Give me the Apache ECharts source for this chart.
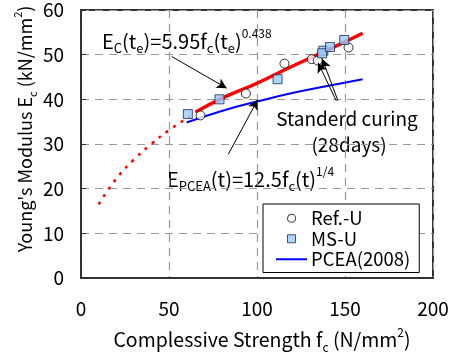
<!DOCTYPE html>
<html>
<head>
<meta charset="utf-8">
<script src="https://cdn.jsdelivr.net/npm/echarts@6/dist/echarts.min.js"></script>
<style>
  html, body { margin: 0; padding: 0; background: #fff; }
  #chart { width: 453px; height: 356px; }
</style>
</head>
<body>
<div id="chart"></div>
<script>
// axis ticks
const xTicks = [0, 50, 100, 150, 200];
const yTicks = [0, 10, 20, 30, 40, 50, 60];

// measured points [fc, Ec]
const refU = [[67.9, 36.4], [93.7, 41.3], [115.6, 48.0], [131.1, 49.0], [134.5, 48.7], [152, 51.6]];
const msU = [[60.7, 36.7], [78.7, 40.0], [111.7, 44.5], [137.7, 50.9], [137, 50.3], [141.5, 51.7], [149.6, 53.3]];

// curves
const ecFit = [[65, 37.1], [80, 40.2], [100, 43.6], [120, 47.4], [140, 51.0], [160, 54.8]];
const ecExtrap = [[10, 16.5], [20, 22.2], [30, 26.5], [40, 30.0], [50, 33.1], [62, 36.2]];
const pcea = [[60, 34.8], [80, 37.4], [100, 39.5], [120, 41.4], [140, 43.0], [160, 44.5]];

// annotation arrows [from, to]
const arrowEc = [[51.5, 49.6], [82.8, 42.5]];
const arrowPcea = [[83.7, 27.7], [100.4, 39.9]];
const arrowStd1 = [[146, 39.7], [137, 49.1]];
const arrowStd2 = [[145, 39.7], [134.7, 48.2]];

const FONT = '"Noto Sans CJK JP", "Noto Sans", sans-serif';

function richSet(main, sub, sup) {
  return {
    m: { fontSize: main, fontFamily: FONT, color: '#000', lineHeight: main + 8 },
    sub: { fontSize: sub, fontFamily: FONT, color: '#000', lineHeight: sub + 1, verticalAlign: 'bottom' },
    sup: { fontSize: sup, fontFamily: FONT, color: '#000', lineHeight: sup + 1, verticalAlign: 'top' }
  };
}
const richNote = richSet(20, 13, 12);
const richAxis = richSet(19.5, 12, 12);
const richAxisY = richSet(18, 11, 11);

const chart = echarts.init(document.getElementById('chart'));

function arrowLine(pair) {
  return [{ coord: pair[0] }, { coord: pair[1] }];
}

const option = {
  animation: false,
  grid: { left: 81, right: 20, top: 10, bottom: 78, show: true, borderColor: '#333', borderWidth: 2 },
  xAxis: {
    type: 'value',
    min: xTicks[0],
    max: xTicks[xTicks.length - 1],
    interval: 50,
    axisLine: { lineStyle: { color: '#333', width: 2 } },
    axisTick: { show: false },
    axisLabel: { fontSize: 19, fontFamily: FONT, color: '#000', margin: 21 },
    splitLine: { lineStyle: { color: '#999', type: [8, 6], width: 1.2 } }
  },
  yAxis: {
    type: 'value',
    min: yTicks[0],
    max: yTicks[yTicks.length - 1],
    interval: 10,
    axisLine: { lineStyle: { color: '#333', width: 2 } },
    axisTick: { show: true, inside: true, length: 5, lineStyle: { color: '#333' } },
    axisLabel: { fontSize: 19, fontFamily: FONT, color: '#000', margin: 17 },
    splitLine: { lineStyle: { color: '#999', type: [8, 6], width: 1.2 } }
  },
  legend: {
    data: [
      { name: 'Ref.-U', icon: 'path://M5,0A5,5 0 1 1 4.99,0Z', itemStyle: { color: '#fff', borderColor: '#000', borderWidth: 1 } },
      { name: 'MS-U', icon: 'path://M0,0L10,0L10,10L0,10Z', itemStyle: { color: '#99ccff', borderColor: '#1a2a4a', borderWidth: 1 } },
      { name: 'PCEA(2008)', icon: 'path://M0,0L31,0L31,2L0,2Z', itemStyle: { color: '#0000ff', borderWidth: 0 } }
    ],
    orient: 'vertical',
    left: 263,
    top: 204,
    backgroundColor: '#fff',
    borderColor: '#000',
    borderWidth: 1,
    borderRadius: 0,
    padding: [5, 9, 4, 13],
    itemWidth: 31,
    itemHeight: 8,
    itemGap: 2,
    symbolKeepAspect: true,
    textStyle: { fontSize: 18.5, fontFamily: FONT, color: '#000', padding: [0, 0, 0, -1] }
  },
  series: [
    {
      name: 'extrap',
      type: 'line',
      data: ecExtrap,
      smooth: true,
      showSymbol: false,
      lineStyle: { color: '#ff0000', width: 2.5, type: [3, 6] },
      z: 2
    },
    {
      name: 'Ec',
      type: 'line',
      data: ecFit,
      smooth: true,
      showSymbol: false,
      lineStyle: { color: '#ff0000', width: 3.5 },
      z: 2,
      markLine: {
        silent: true,
        symbol: ['none', 'arrow'],
        symbolSize: [8, 10],
        label: { show: false },
        lineStyle: { color: '#000', width: 1, type: 'solid' },
        data: [arrowLine(arrowEc), arrowLine(arrowPcea), arrowLine(arrowStd1), arrowLine(arrowStd2)]
      }
    },
    {
      name: 'PCEA(2008)',
      type: 'line',
      data: pcea,
      smooth: true,
      showSymbol: false,
      symbol: 'none',
      lineStyle: { color: '#0000ff', width: 2 },
      itemStyle: { color: '#0000ff' },
      z: 2
    },
    {
      name: 'Ref.-U',
      type: 'scatter',
      data: refU,
      symbol: 'circle',
      symbolSize: 9,
      itemStyle: { color: '#fff', borderColor: '#000', borderWidth: 1 },
      z: 3
    },
    {
      name: 'MS-U',
      type: 'scatter',
      data: msU,
      symbol: 'rect',
      symbolSize: 9,
      itemStyle: { color: '#99ccff', borderColor: '#1a2a4a', borderWidth: 1 },
      z: 4
    }
  ],
  graphic: [
    {
      type: 'text', x: 102, y: 41,
      style: {
        text: '{m|E}{sub|C}{m|(t}{sub|e}{m|)=5.95f}{sub|c}{m|(t}{sub|e}{m|)}{sup|0.438}',
        rich: richNote, align: 'left', verticalAlign: 'middle'
      }
    },
    {
      type: 'text', x: 167, y: 179,
      style: {
        text: '{m|E}{sub|PCEA}{m|(t)=12.5f}{sub|c}{m|(t)}{sup|1/4}',
        rich: richNote, align: 'left', verticalAlign: 'middle'
      }
    },
    {
      type: 'text', x: 347, y: 119,
      style: { text: 'Standerd curing', fontSize: 19, fontFamily: FONT, fill: '#000', align: 'center', verticalAlign: 'middle' }
    },
    {
      type: 'text', x: 349, y: 145,
      style: { text: '(28days)', fontSize: 19, fontFamily: FONT, fill: '#000', align: 'center', verticalAlign: 'middle' }
    },
    {
      type: 'text', x: 262, y: 340,
      style: {
        text: '{m|Complessive Strength f}{sub|c}{m| (N/mm}{sup|2}{m|)}',
        rich: richAxis, align: 'center', verticalAlign: 'middle'
      }
    },
    {
      type: 'text', x: 25, y: 129, rotation: Math.PI / 2,
      style: {
        text: "{m|Young's Modulus E}{sub|c}{m| (kN/mm}{sup|2}{m|)}",
        rich: richAxisY, align: 'center', verticalAlign: 'middle'
      }
    }
  ]
};

chart.setOption(option);
</script>
</body>
</html>
